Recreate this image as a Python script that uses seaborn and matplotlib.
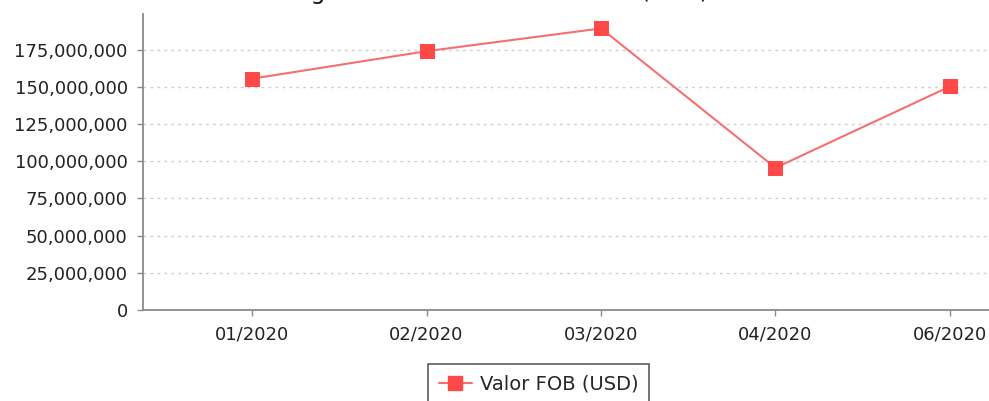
import pandas as pd
import seaborn as sns
from matplotlib import pyplot as plt
from matplotlib.ticker import StrMethodFormatter

# monthly values
months = ["01/2020", "02/2020", "03/2020", "04/2020", "06/2020"]
valor_fob = [155500000, 174000000, 189300000, 95600000, 150300000]
serie_label = "Valor FOB (USD)"
title = "Total Registrado Mensal - Valor FOB (USD)"

df = pd.DataFrame({"mes": months, "valor": valor_fob, "serie": serie_label})

sns.set_theme(style="white")
plt.rcParams["font.family"] = ["DejaVu Sans"]

W, H = 989, 401
fig = plt.figure(figsize=(W / 100, H / 100), dpi=100)
# plot area runs past the right edge, as in the cropped reference
ax = fig.add_axes([143 / W, 1 - 310 / H, (1059 - 143) / W, (310 - 14) / H])

sns.lineplot(data=df, x="mes", y="valor", hue="serie", palette=["#f47070"],
             marker="s", markersize=9.5, markerfacecolor="#ff4848",
             markeredgecolor="#ff4848", linewidth=1.5, sort=False, ax=ax,
             legend=False)

ax.set_xlim(-0.625, len(months) - 0.375)
ax.set_ylim(0, 199000000)
ax.set_yticks(range(0, 175000001, 25000000))
ax.yaxis.set_major_formatter(StrMethodFormatter("{x:,.0f}"))
ax.set_xlabel("")
ax.set_ylabel("")

ax.grid(axis="y", linestyle=(0, (2, 3)), color="#cfcfcf", linewidth=1)
ax.set_axisbelow(True)
for s in ["top", "right"]:
    ax.spines[s].set_visible(False)
for s in ["left", "bottom"]:
    ax.spines[s].set_color("#8a8a8a")
    ax.spines[s].set_linewidth(1.3)
ax.tick_params(axis="both", which="major", length=4, width=1, color="#8a8a8a",
               direction="out", labelsize=13, labelcolor="#222222", pad=7,
               bottom=True, left=True)

# legend box below the plot, cut by the bottom edge
handle = plt.Line2D([], [], color="#f47070", linewidth=1.5, marker="s",
                    markersize=9.5, markerfacecolor="#ff4848",
                    markeredgecolor="#ff4848")
leg = fig.legend([handle], [serie_label], loc="upper left",
                 bbox_to_anchor=(428 / W, 1 - 364 / H), fontsize=14,
                 frameon=True, fancybox=False, handlelength=1.7,
                 handletextpad=0.4, borderpad=0.55, borderaxespad=0)
leg.get_frame().set_edgecolor("#333333")
leg.get_frame().set_linewidth(1.2)

# title sits above the crop, only descenders show
fig.text(709 / W, 1 + 1 / H, title, ha="right", va="baseline",
         fontsize=16.8, color="#111111")

fig.savefig("out.png", dpi=100)
